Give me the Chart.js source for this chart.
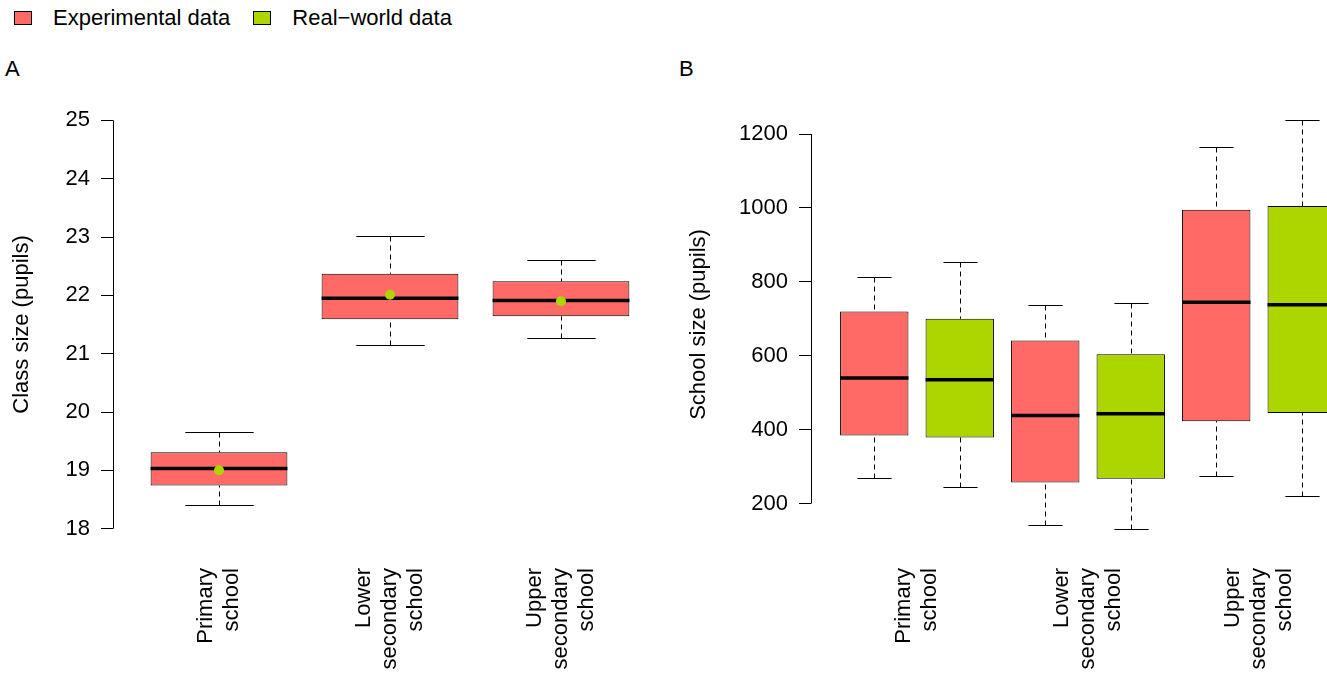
<!DOCTYPE html>
<html>
<head>
  <title>Class size and school size</title>
  <script src="https://cdn.jsdelivr.net/npm/chart.js"></script>
  <style>
    body { margin:0; width:1327px; height:677px; overflow:hidden; background:#fff; position:relative;
           font-family:"Liberation Sans", Arial, sans-serif; font-size:22px; color:#000; }
    .abs { position:absolute; line-height:22px; white-space:nowrap; }
    #legend { position:absolute; left:14px; top:7px; display:flex; align-items:flex-start; line-height:22px; white-space:nowrap; }
    #legend .key { width:18px; height:14px; border:1px solid #000; box-sizing:border-box; margin-top:4px; margin-right:21px; }
    #legend .txt { margin-right:23px; }
    canvas { position:absolute; top:0; }
  </style>
</head>
<body>
  <div id="legend"></div>
  <div class="abs" style="left:5px;top:58px;">A</div>
  <div class="abs" style="left:679px;top:58px;">B</div>
  <canvas id="classChart" width="680" height="677" style="left:0"></canvas>
  <canvas id="schoolChart" width="700" height="677" style="left:677px"></canvas>

  <script>
    const seriesNames = ['Experimental data', 'Real\u2212world data'];
    const seriesColors = ['#FF6A66', '#ADD600'];
    const levelLabels = [['Primary', 'school'], ['Lower', 'secondary', 'school'], ['Upper', 'secondary', 'school']];

    // A: class size, experimental boxes + real-world means
    const classTicks = [18, 19, 20, 21, 22, 23, 24, 25];
    const classMin = [18.41, 21.14, 21.26];
    const classQ1 = [18.74, 21.59, 21.64];
    const classMedian = [19.03, 21.95, 21.91];
    const classQ3 = [19.31, 22.37, 22.24];
    const classMax = [19.65, 23.01, 22.60];
    const classRealMean = [19.00, 22.01, 21.90];

    // B: school size, experimental vs real-world boxes
    const schoolTicks = [200, 400, 600, 800, 1000, 1200];
    const schoolExpMin = [270, 142, 275];
    const schoolExpQ1 = [384, 257, 423];
    const schoolExpMedian = [540, 438, 745];
    const schoolExpQ3 = [720, 641, 995];
    const schoolExpMax = [812, 737, 1166];
    const schoolRealMin = [246, 132, 220];
    const schoolRealQ1 = [379, 267, 445];
    const schoolRealMedian = [535, 443, 738];
    const schoolRealQ3 = [700, 604, 1005];
    const schoolRealMax = [854, 743, 1237];

    Chart.defaults.font.family = '"Liberation Sans", Arial, sans-serif';
    Chart.defaults.font.size = 22;
    Chart.defaults.color = '#000';

    // legend at the top
    const legendEl = document.getElementById('legend');
    seriesNames.forEach((name, i) => {
      const key = document.createElement('div');
      key.className = 'key';
      key.style.background = seriesColors[i];
      const txt = document.createElement('div');
      txt.className = 'txt';
      txt.textContent = name;
      legendEl.appendChild(key);
      legendEl.appendChild(txt);
    });

    function boxDataset(label, color, xs, low, q1, med, q3, high) {
      return {
        type: 'bar', label, order: 1,
        backgroundColor: color, borderColor: '#000', borderWidth: 1, borderSkipped: false,
        grouped: false, barPercentage: 0.8, categoryPercentage: 1,
        data: xs.map((x, i) => ({ x, y: [q1[i], q3[i]] })),
        low, median: med, high
      };
    }

    // whiskers under the boxes, medians right after each box set
    const boxPlot = {
      id: 'boxPlot',
      beforeDatasetsDraw(chart) {
        const ctx = chart.ctx, y = chart.scales.y;
        chart.data.datasets.forEach((ds, i) => {
          if (!ds.median) return;
          chart.getDatasetMeta(i).data.forEach((bar, j) => {
            const x = Math.round(bar.x) + 0.5;
            const cap = bar.width / 4;
            const hi = Math.round(y.getPixelForValue(ds.high[j])) + 0.5;
            const lo = Math.round(y.getPixelForValue(ds.low[j])) + 0.5;
            const q1 = y.getPixelForValue(ds.data[j].y[0]);
            const q3 = y.getPixelForValue(ds.data[j].y[1]);
            ctx.save();
            ctx.strokeStyle = '#000';
            ctx.lineWidth = 1;
            ctx.setLineDash([5, 4]);
            ctx.beginPath();
            ctx.moveTo(x, hi); ctx.lineTo(x, q3);
            ctx.moveTo(x, lo); ctx.lineTo(x, q1);
            ctx.stroke();
            ctx.setLineDash([]);
            ctx.beginPath();
            ctx.moveTo(x - cap, hi); ctx.lineTo(x + cap, hi);
            ctx.moveTo(x - cap, lo); ctx.lineTo(x + cap, lo);
            ctx.stroke();
            ctx.restore();
          });
        });
      },
      afterDatasetDraw(chart, args) {
        const ds = chart.data.datasets[args.index];
        if (!ds.median) return;
        const ctx = chart.ctx, y = chart.scales.y;
        ctx.save();
        ctx.strokeStyle = '#000';
        ctx.lineWidth = 3.5;
        args.meta.data.forEach((bar, j) => {
          const py = y.getPixelForValue(ds.median[j]);
          ctx.beginPath();
          ctx.moveTo(bar.x - bar.width / 2, py);
          ctx.lineTo(bar.x + bar.width / 2, py);
          ctx.stroke();
        });
        ctx.restore();
      }
    };

    // R-style axis line (first to last tick) and rotated group labels
    function axisExtras(labels, positions) {
      return {
        id: 'axisExtras',
        afterDraw(chart) {
          const ctx = chart.ctx, x = chart.scales.x, y = chart.scales.y, area = chart.chartArea;
          const t = y.ticks;
          const ax = Math.round(area.left - 0.5) + 0.5;
          ctx.save();
          ctx.strokeStyle = '#000';
          ctx.lineWidth = 1;
          ctx.beginPath();
          ctx.moveTo(ax, y.getPixelForValue(t[0].value));
          ctx.lineTo(ax, y.getPixelForValue(t[t.length - 1].value));
          ctx.stroke();
          ctx.font = '22px "Liberation Sans", Arial, sans-serif';
          ctx.fillStyle = '#000';
          ctx.textAlign = 'right';
          ctx.textBaseline = 'middle';
          labels.forEach((lines, i) => {
            ctx.save();
            ctx.translate(x.getPixelForValue(positions[i]), area.bottom + 23);
            ctx.rotate(-Math.PI / 2);
            lines.forEach((line, k) => ctx.fillText(line, 0, (k - (lines.length - 1) / 2) * 26.4));
            ctx.restore();
          });
          ctx.restore();
        }
      };
    }

    function yAxis(title, ticks, lo, hi, width) {
      const pad = (hi - lo) * 0.04;
      return {
        min: lo - pad, max: hi + pad,
        afterBuildTicks: s => { s.ticks = ticks.map(v => ({ value: v })); },
        afterFit: s => { s.width = width; },
        ticks: { padding: 11, callback: v => String(v) },
        grid: { drawOnChartArea: false, drawTicks: true, tickLength: 12, color: '#000' },
        border: { display: false },
        title: { display: true, text: title, padding: { top: 9, bottom: 0 } }
      };
    }

    // hidden x axis; its ticks sit on the box positions so bar widths follow the box spacing
    function xAxis(positions) {
      const n = positions.length;
      return {
        type: 'linear', display: false, offset: false,
        min: 0.5 - 0.04 * n, max: n + 0.5 + 0.04 * n,
        afterBuildTicks: s => { s.ticks = positions.map(v => ({ value: v })); }
      };
    }

    const baseOptions = {
      responsive: false,
      animation: false,
      plugins: { legend: { display: false }, tooltip: { enabled: false } }
    };

    // Panel A
    const classX = classMedian.map((_, i) => i + 1);
    new Chart(document.getElementById('classChart'), {
      type: 'bar',
      data: {
        datasets: [
          {
            type: 'line', label: seriesNames[1], order: 0, showLine: false,
            data: classRealMean.map((v, i) => ({ x: classX[i], y: v })),
            pointRadius: 5, pointBorderWidth: 0,
            pointBackgroundColor: seriesColors[1], borderColor: seriesColors[1]
          },
          boxDataset(seriesNames[0], seriesColors[0], classX, classMin, classQ1, classMedian, classQ3, classMax)
        ]
      },
      options: {
        ...baseOptions,
        layout: { padding: { top: 104, bottom: 132, left: 0, right: 13 } },
        scales: {
          x: xAxis(classX),
          y: yAxis('Class size (pupils)', classTicks, classTicks[0], classTicks[classTicks.length - 1], 113)
        }
      },
      plugins: [boxPlot, axisExtras(levelLabels, classX)]
    });

    // Panel B
    const expX = schoolExpMedian.map((_, i) => 2 * i + 1);
    const realX = schoolRealMedian.map((_, i) => 2 * i + 2);
    const groupX = expX.map(v => v + 0.5);
    const allLow = Math.min(...schoolExpMin, ...schoolRealMin);
    const allHigh = Math.max(...schoolExpMax, ...schoolRealMax);
    new Chart(document.getElementById('schoolChart'), {
      type: 'bar',
      data: {
        datasets: [
          boxDataset(seriesNames[0], seriesColors[0], expX, schoolExpMin, schoolExpQ1, schoolExpMedian, schoolExpQ3, schoolExpMax),
          boxDataset(seriesNames[1], seriesColors[1], realX, schoolRealMin, schoolRealQ1, schoolRealMedian, schoolRealQ3, schoolRealMax)
        ]
      },
      options: {
        ...baseOptions,
        layout: { padding: { top: 104, bottom: 132, left: 0, right: 12 } },
        scales: {
          x: xAxis([...expX, ...realX].sort((a, b) => a - b)),
          y: yAxis('School size (pupils)', schoolTicks, allLow, allHigh, 134)
        }
      },
      plugins: [boxPlot, axisExtras(levelLabels, groupX)]
    });
  </script>
</body>
</html>
